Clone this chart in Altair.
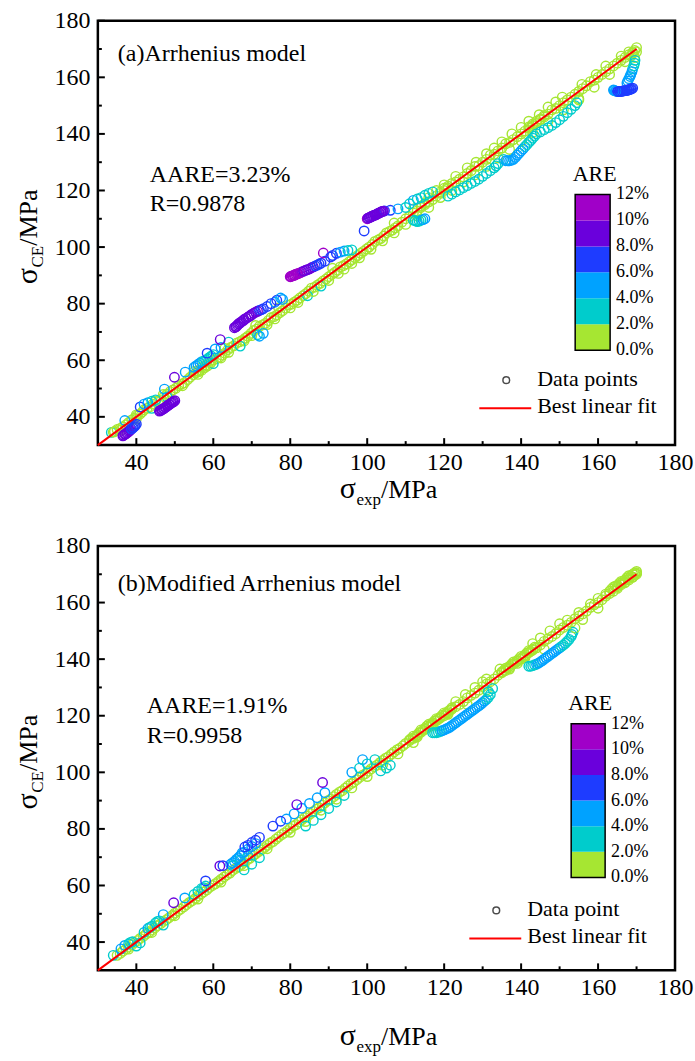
import altair as alt
import pandas as pd

FONT = "Liberation Serif"
W, H = 578, 425

TICK_MAJOR = [40, 60, 80, 100, 120, 140, 160, 180]
TICK_MINOR = [50, 70, 90, 110, 130, 150, 170]
ARE_EDGES = [0, 2, 4, 6, 8, 10, 12]
ARE_LABELS = ["0.0%", "2.0%", "4.0%", "6.0%", "8.0%", "10%", "12%"]
ARE_COLORS = ["#a6e632", "#00cccc", "#00a2ff", "#1e3cff", "#6a00dc", "#a000c8"]
FIT_X = [30, 170]
FIT_Y = [30, 170]

# ---------------- panel (a): Arrhenius model ----------------
A_BAND = [(33.5,34.5),(35,35.5),(36.5,36.5),(38,38),(39.5,39.5),(41,41),(42,42.5),(43.5,43.5),(45,45.5),
          (46.5,46),(48,48),(49.5,49.5),(51,51),(52.5,52),(54,54),(55.5,55.5),(57,56.5),(58.5,58),(60,60),
          (61.5,61),(63,62.5),(64.5,64.5),(66,66),(67.5,67),(69,68.5),(70.5,70.5),(72,72),(73.5,73),(75,75),
          (76.5,76),(78,77.5),(79.5,79.5),(81,80.5),(82.5,82),(84,83.5),(85.5,85.5),(87,86.5),(88.5,88),
          (90,89.5),(91.5,91),(93,93),(94.5,94),(96,95.5),(97.5,97),(99,98.5),(100.5,100),(102,102),
          (103.5,103),(105,105),(106.5,106),(108,107.5),(110,110),(112,112),(114,114),(116,116),(118,118),
          (120,120),(122,122.5),(124,124),(126,126),(128,128.5),(130,130),(132,132.5),(134,134),(136,136.5),
          (138,138),(140,140),(142,142.5),(144,144),(146,146),(148,148.5),(150,150),(152,152),(154,154),
          (156,156),(158,158.5),(160,160),(162,162),(164,164),(166,166),(168,168),(169.5,169.5)]
A_BAND2 = [(34.3,34.8),(35.8,35.9),(37.3,37.2),(38.8,38.9),(40.3,40.4),(41.6,41.8),(42.8,43),(44.3,44.5),
           (45.8,45.6),(47.2,47.1),(48.8,48.9),(50.3,50.1),(51.8,51.6),(53.3,53.1),(54.8,54.9),(56.3,56),
           (57.8,57.4),(59.3,59),(60.8,60.6),(62.3,61.8),(63.8,63.7),(65.3,65.1),(66.8,66.5),(68.3,67.8),
           (69.8,69.5),(71.3,71),(72.8,72.5),(74.3,74),(75.8,75.4),(77.3,76.8),(78.8,78.4),(80.3,79.8),
           (81.8,81.2),(83.3,82.8),(84.8,84.4),(86.3,85.8),(87.8,87.2),(89.3,88.7),(90.8,90.3),(92.3,91.8),
           (93.8,93.4),(95.3,94.8),(96.8,96.3),(98.3,97.8),(99.8,99.3),(101.3,100.9),(102.8,102.5),
           (104.3,103.9),(105.8,105.5),(107.3,106.8),(109,108.8),(111,110.8),(113,112.8),(115,115),
           (117,116.8),(119,119),(121,120.8),(123,123),(125,124.8),(127,127),(129,128.8),(131,131),
           (133,132.8),(135,135),(137,137),(139,139),(141,141),(143,143),(145,145.3),(147,147),(149,149),
           (151,151),(153,153),(155,155),(157,157),(159,159),(161,161),(163,163),(165,165),(167,167),(169,168.8)]
A_BELOW = [(36,35.3),(40,39.2),(44,43),(48,47),(52,51),(56,55),(60,58.8),(62,60.8),(64,62.8),(68,66.8),
           (70,68.7),(74,72.6),(76,74.6),(80,78.5),(82,80.4),(84.5,82.8),(86,84.3),(88,86.2),(90,88.2),
           (92.5,90.7),(94,92.2),(96,94.2),(98,96.2),(101,99.2),(104,102.2),(107,105),(110,108),(113,111),
           (116,114),(119,117.5),(122,120),(125,123),(128,125.5),(131,128.5),(134,131.5),(137,134.5),
           (140,137.5),(143,140.5),(147,144.5),(151,148.5),(155,152.5),(159,156.5),(163,161),(167,165.5)]
A_ABOVE = [(34,34.6),(40,40.7),(47,47.9),(55,56),(63,64.2),(71,72.3),(77,78.5),(91,92.5),(107,108.5),
           (112,113.5),(116,117.5),(120,122),(123,125),(126,128),(128.3,130),(131,133),(133,135),(135,137.2),
           (137.6,140),(140,142.3),(142,144.5),(144.7,146.8),(147,149.5),(149,151.3),(150.7,153),(155.8,157.5),
           (159.5,161),(162,164),(166,167.5),(168,169),(170,170.5),
           (142,142),(143,143.5),(144,144.5),(145,145),(146,146.5),(119,119.5),(120,120.8),(121,121.5),
           (114,114.5),(115,115.5),(168.5,167.5),(169,168.5),(169.5,167),(170,169),
           (56,56.2),(57,57.5),(58,58.3),(59,59.5)]
A_CYAN = [(37,38.7),(41,43.5),(42,44.5),(43,45),(44,45.5),(45,46),(47.3,49.8),(52.7,55.8),(55,57.5),
          (56,58.5),(57,59.5),(58,60),(59,61),(60,62),(60.5,64),(62,64.5),(64,66.4),(67,65),(71.5,69),
          (72,68.5),(73,69.5),(74,79),(76,80.5),(78,81.5),(92,97.8),(93,98.2),(94,98.6),(95,98.8),(96,99),
          (106,113),(108,113.5),(110,114),(112,116.5),(114,117.5),(116,119),(118,120),(112,109.5),(113,109),
          (114,109.5),(115,110),(121,118),(123,119.5),(125,121),(127,122.5),(129,124),(131,126),(133,128),
          (134,129.5),(135.5,131),(136,130.5),(137,130.5),(138,131),(139,132.5),(140,134),(141,135.5),
          (142,137),(143,138.5),(144,140),(146,141.5),(148,143),(150,145),(152,147.5),(154,150),(155,152),
          (169.5,165),(169,163),(168.5,161),(168,159.5),(167.5,158),
          (122,118.7),(124,120.2),(126,121.7),(128,123.2),(130,125),(132,127),(133.5,128.7),
          (145,140.7),(147,142.2),(149,144),(151,146.2),(153,148.7),(154.5,151),
          (136.5,130.5),(137.5,130.7),(138.5,131.7),(139.5,133.2),(140.5,134.7),(141.5,136.2),(142.5,137.7),
          (143.5,139.2),(169.3,164),(168.8,162),(168.3,160.3),(167.7,158.7),(169.6,166),
          (111,115.3),(113,117),(115,118.3),(117,119.5),(112.5,109.3),(113.5,109.2),(114.5,109.7),
          (55.5,58),(56.5,59),(57.5,59.7),(58.5,60.5),(59.5,61.5)]
A_OUTLIERS = [(36.5,33.3),(37,33.8),(37.5,34.2),(38,34.8),(38.5,35.4),(39,36),(39.5,36.6),(40,37.4),
              (36.7,33.5),(37.2,34),(37.7,34.5),(38.2,35.1),(38.7,35.7),(39.2,36.3),(39.7,37),
              (46,42),(46.5,42.4),(47,42.8),(47.5,43.3),(48,43.8),(48.5,44.3),(49,44.8),(49.5,45.2),(50,45.7),
              (46.2,42.2),(46.7,42.6),(47.2,43),(47.7,43.5),(48.2,44),(48.7,44.5),(49.2,45),(49.7,45.4),
              (49.9,54),(58.4,62.5),(61.8,67.3),(65.5,71.5),(66,72),(66.5,72.8),(67,73.3),(67.8,74),(68.5,74.8),
              (69.3,75.5),(70,76.2),(71,77),(72,77.6),(73,78.2),(75,80),(76.5,81.2),(77.5,82),
              (65.8,71.8),(66.3,72.4),(66.8,73),(67.3,73.6),(68,74.4),(69,75.2),(69.7,75.8),(70.5,76.6),
              (71.5,77.3),(72.5,77.9),
              (80,89.5),(80.5,89.8),(81,90),(81.5,90.4),(82,90.6),(83,91.2),(84,91.8),(85,92.3),(86,93),
              (87,93.6),(88,94.3),(89,95),(88.6,97.9),(90.5,96.5),(91,97),
              (80.2,89.6),(80.7,89.9),(81.2,90.2),(81.8,90.5),(82.5,90.9),(83.5,91.5),(84.5,92),(85.5,92.7),
              (86.5,93.3),(87.5,94),
              (100,110),(100.5,110.4),(101,110.7),(101.5,111),(102,111.3),(102.5,111.6),(103,112),(103.5,112.3),
              (104,112.6),(104.5,112.8),(100.2,110.2),(100.7,110.5),(101.2,110.9),(101.7,111.2),(102.2,111.4),
              (102.7,111.8),(103.2,112.1),(103.7,112.5),(104.2,112.7),(99.2,105.7),
              (164,155.5),(164.5,155.2),(165,155),(165.5,155),(166,155),(166.5,155.2),(167,155.3),
              (167.5,155.4),(168,155.6),(168.5,155.8),(169,156.2),(164.2,155.4),(164.7,155.1),(165.2,155),
              (165.7,155),(166.2,155.1),(166.7,155.2),(167.2,155.3),(167.7,155.5),(168.2,155.7),(168.7,156)]

# ---------------- panel (b): Modified Arrhenius model ----------------
B_BAND = [(35,35.3),(36.5,36.8),(38,38.2),(39.5,39.8),(41,41.3),(42.5,42.8),(44,44.2),(45.5,45.8),(47,47.3),
          (48.5,48.6),(50,50.2),(51.5,51.6),(53,53.2),(54.5,54.6),(56,56.3),(57.5,57.7),(59,59.3),(60.5,60.6),
          (62,62.2),(63.5,63.7),(65,65.3),(66.5,66.6),(68,68.2),(69.5,69.6),(71,71.2),(72.5,72.6),(74,74.2),
          (75.5,75.5),(77,77.2),(78.5,78.6),(80,80.2),(81.5,81.5),(83,83.2),(84.5,84.5),(86,86.2),(87.5,87.5),
          (89,89.2),(90.5,90.5),(92,92.2),(93.5,93.5),(95,95.2),(96.5,96.5),(98,98.2),(99.5,99.5),(101,101.2),
          (102.5,102.5),(104,104.2),(105.5,105.5),(107,107.2),(108.5,108.5),(110,110.2),(112,112),(114,114.2),
          (116,116),(118,118.3),(120,120),(122,122.3),(124,124),(126,126.3),(128,128),(130,130.3),(132,132),
          (134,134.3),(136,136),(138,138.3),(140,140),(142,142.3),(144,144),(146,146.3),(148,148),(150,150.3),
          (152,152),(154,154.3),(156,156),(158,158.3),(160,160),(162,162.3),(164,164),(166,166.3),(168,168),
          (169.5,169.8)]
B_BAND2 = [(35.8,36),(37.3,37.5),(38.8,39),(40.3,40.5),(41.8,42),(43.3,43.4),(44.8,45),(46.3,46.5),(47.8,47.9),
           (49.3,49.4),(50.8,51),(52.3,52.4),(53.8,54),(55.3,55.4),(56.8,57),(58.3,58.4),(59.8,60),(61.3,61.4),
           (62.8,63),(64.3,64.4),(65.8,66),(67.3,67.4),(68.8,69),(70.3,70.4),(71.8,72),(73.3,73.4),(74.8,75),
           (76.3,76.4),(77.8,78),(79.3,79.4),(80.8,81),(82.3,82.4),(83.8,84),(85.3,85.4),(86.8,87),(88.3,88.4),
           (89.8,90),(91.3,91.4),(92.8,93),(94.3,94.4),(95.8,96),(97.3,97.4),(98.8,99),(100.3,100.4),
           (101.8,102),(103.3,103.4),(104.8,105),(106.3,106.4),(107.8,108),(109.3,109.4),(111,111.2),(113,113),
           (115,115.2),(117,117),(119,119.2),(121,121),(123,123.2),(125,125),(127,127.2),(129,129),(131,131.2),
           (133,133),(135,135.2),(137,137),(139,139.2),(141,141),(143,143.2),(145,145),(147,147.2),(149,149),
           (151,151.2),(153,153),(155,155.2),(157,157),(159,159.2),(161,161),(163,163.2),(165,165),(167,167.2),
           (169,169)]
B_DENSE = [(111,111.5),(112,112.8),(113,113.2),(114,115),(115,115.5),(116,117),(117,117.5),(118,119),
           (119,119.5),(120,121),(121,121.5),(122,122.8),(113,112.5),(117,116.5),(121,120.5),
           (111.5,112),(112.5,112.5),(113.5,114),(114.5,114.8),(115.5,116.3),(116.5,116.8),(117.5,118.2),
           (118.5,118.8),(119.5,120.2),(120.5,120.8),(121.5,122),
           (135,135.5),(136,136.8),(137,137.5),(138,139),(139,139.5),(140,141),(141,141.5),(142,143),
           (143,143.5),(137,136.5),(141,140.5),(139,138.5),
           (135.5,136),(136.5,137),(137.5,138.2),(138.5,138.8),(139.5,140.2),(140.5,140.8),(141.5,142.2),
           (142.5,142.8),(143.5,144.2),
           (163,164),(164,165.5),(165,166),(166,167.5),(167,168),(168,169.5),(169,170),(170,171),(168,168.5),
           (169,169),(170,170),(167,167),(166,166.8),(165,165.5),
           (163.5,164.8),(164.5,165.8),(165.5,166.8),(166.5,167.5),(167.5,168.8),(168.5,169.3),(169.5,170.5),
           (170,170.5)]
B_ABOVE = [(123,125),(125.5,127.5),(128,130),(130,132),(131,133),(134.5,136.5),(143,145.5),(145,147.5),
           (147.5,150),(150,152.5),(152,153.8),(155,156.5),(158,159.5),(160,161.5),(162,163)]
B_BELOW = [(38,37.5),(44,43.4),(50,49.3),(56,55.2),(62,61.2),(68,67),(74,73),(80,78.8),(84,82.6),(88,86.6),
           (92,90.5),(96,94.5),(100,98.5),(104,102.5),(108,106.5),(112,110.5),(126,124),(131,129),(146,143.5),
           (156,154),(160,158)]
B_CYAN = [(34,35.3),(37,38.8),(38,39.4),(39,40.1),(40,38.6),(41,39.7),(42,43.4),(43,44.8),(44,45.6),(45,46.8),
          (46,47.5),(47,46),(47,49.7),(52.6,55.6),(55,56.8),(56,57.9),(57,59),(58,59.8),(57.5,59.2),
          (64.5,67.5),(65.5,68.5),(66.5,69.8),(67.5,71.5),(65,67),(67,69),(69,70.5),(68,65.5),(70,67.5),
          (72,69.8),(79,83.5),(81,85.3),(83,87.3),(85,89),(87,91),(89,92.8),(84,81),(86,83),(88,85),
          (90,87.2),(92,89.5),(94,91.8),(98.8,104.5),(96,100),(98,101.5),(100,103),(102,104.5),(103.5,100.5),
          (105,101.5),(106,102.5),(117,114),(118,114),(119,114.5),(120,115),(121,115.6),(122,116.5),
          (123,117.5),(124,118.5),(125,119.5),(126,120.5),(127,121.5),(128,122.5),(129,123.5),(130,124.6),
          (131,125.8),(132,127.5),(132.6,129.6),(131.5,128.5),(142,137.5),(143,137.7),(144,138.2),(145,139),
          (146,140),(147,141),(148,142),(149,143),(150,144),(151,145),(152,146.3),(153,148),(153.5,149.5),
          (154,151),
          (117.5,114),(118.5,114.2),(119.5,114.7),(120.5,115.3),(121.5,116),(122.5,117),(123.5,118),
          (124.5,119),(125.5,120),(126.5,121),(127.5,122),(128.5,123),(129.5,124),(130.5,125.2),(131.5,126.5),
          (142.5,137.5),(143.5,138),(144.5,138.6),(145.5,139.5),(146.5,140.5),(147.5,141.5),(148.5,142.5),
          (149.5,143.5),(150.5,144.5),(151.5,145.6),(152.5,147),(153.2,148.7),
          (65,68),(66,69.2),(67,70.5),(68,71.8),(69,72.8),(70,73.8),(71,74.8),(36,37.6),(38.5,39.9),(43.5,45.2),
          (45.5,47.3)]
B_OUTLIERS = [(49.7,53.9),(58,61.6),(61.7,66.9),(62.5,67),(68.2,73.6),(69,74.2),(70,75.2),(71,76),(72,77),
              (75.5,81),(77.5,82.7),(81.7,88.6),(88.4,96.4)]


def points_frame(*groups):
    rows = [p for g in groups for p in g]
    df = pd.DataFrame(rows, columns=["x", "y"])
    df["are"] = (df["y"] - df["x"]).abs() / df["x"] * 100.0
    return df


def txt(s, x, y, size=24, align="left", angle=0, baseline="alphabetic"):
    return alt.Chart(pd.DataFrame({"t": [s]})).mark_text(
        font=FONT, fontSize=size, align=align, baseline=baseline, angle=angle, color="black"
    ).encode(text="t:N", x=alt.value(x), y=alt.value(y))


SIG, BIG, SMALL = 30, 26, 17


def ytitle(sub, cx_base, cy):
    w_sig, w_sub, w_rest = 0.56 * SIG, 1.28 * SMALL, 2.167 * BIG
    start = cy + (w_sig + w_sub + w_rest) / 2
    return [
        txt("σ", cx_base, start, SIG, angle=270),
        txt(sub, cx_base + 6, start - w_sig, SMALL, angle=270),
        txt("/MPa", cx_base, start - w_sig - w_sub, BIG, angle=270),
    ]


def xtitle(sub, cx, base):
    w_sig, w_sub, w_rest = 0.56 * SIG, 1.444 * SMALL, 2.167 * BIG
    start = cx - (w_sig + w_sub + w_rest) / 2
    return [
        txt("σ", start, base, SIG),
        txt(sub, start + w_sig, base + 7, SMALL),
        txt("/MPa", start + w_sig + w_sub, base, BIG),
    ]


def panel(df, label, aare, rval, legend_name, lay):
    xs = alt.Scale(domain=[30, 180], nice=False, zero=False)
    ys = alt.Scale(domain=[30, 180], nice=False, zero=False)
    are_scale = alt.Scale(type="threshold", domain=ARE_EDGES[1:-1], range=ARE_COLORS)
    ax_common = dict(values=TICK_MAJOR, title=None, ticks=False, tickSize=0, domain=False, grid=False,
                     labelFont=FONT, labelFontSize=24, labelColor="black", format="d")

    pts = alt.Chart(df).mark_point(shape="circle", filled=False, size=90, strokeWidth=1.4, opacity=1).encode(
        x=alt.X("x:Q", scale=xs, axis=alt.Axis(labelPadding=5, labelFlush=False, **ax_common)),
        y=alt.Y("y:Q", scale=ys, axis=alt.Axis(labelPadding=8, **ax_common)),
        color=alt.Color("are:Q", scale=are_scale, legend=None),
    )
    fit = alt.Chart(pd.DataFrame({"x": FIT_X, "y": FIT_Y})).mark_line(color="#ff0000", strokeWidth=2).encode(
        x=alt.X("x:Q", scale=xs), y=alt.Y("y:Q", scale=ys))

    def xt(vals, ln):
        return alt.Chart(pd.DataFrame({"v": vals})).mark_rule(color="black", strokeWidth=2).encode(
            x=alt.X("v:Q", scale=xs), y=alt.value(H), y2=alt.value(H - ln))

    def yt(vals, ln):
        return alt.Chart(pd.DataFrame({"v": vals})).mark_rule(color="black", strokeWidth=2).encode(
            y=alt.Y("v:Q", scale=ys), x=alt.value(0), x2=alt.value(ln))

    lx0, lx1, ly0, ly1 = lay["cb"]
    leg = lay["leg"]
    extras = [
        txt(label, 20, lay["label_y"], 24),
        txt(aare, lay["aare_x"], lay["aare_y"], 24),
        txt(rval, lay["aare_x"], lay["aare_y"] + 30, 24),
        txt("ARE", (lx0 + lx1) / 2 + 2, ly0 - 14, 22, align="center"),
        alt.Chart(pd.DataFrame({"s": [0]})).mark_point(shape="circle", filled=False, size=45, color="black",
                                                      strokeWidth=1.5).encode(
            x=alt.value(leg[0] - 31), y=alt.value(leg[1] - 6)),
        alt.Chart(pd.DataFrame({"s": [0]})).mark_rule(color="#ff0000", strokeWidth=2).encode(
            x=alt.value(leg[0] - 58), x2=alt.value(leg[0] - 6), y=alt.value(leg[1] + 22)),
        txt(legend_name, leg[0], leg[1], 22),
        txt("Best linear fit", leg[0], leg[1] + 27, 22),
    ] + ytitle("CE", -61, H / 2 + 4) + xtitle("exp", W / 2 + 2, lay["xt_base"])

    main = alt.layer(pts, fit, xt(TICK_MAJOR, 7), xt(TICK_MINOR, 4), yt(TICK_MAJOR, 7), yt(TICK_MINOR, 4),
                     *extras)

    # colour bar drawn on its own vertical scale
    per = (ly1 - ly0) / 12.0
    d0 = -(H - ly1) / per
    d1 = 12 + ly0 / per
    cbs = alt.Scale(domain=[d0, d1], nice=False, zero=False)
    cb_df = pd.DataFrame({"lo": ARE_EDGES[:-1], "hi": ARE_EDGES[1:]})
    cb_df["mid"] = (cb_df["lo"] + cb_df["hi"]) / 2
    bar = alt.Chart(cb_df).mark_rect().encode(
        x=alt.value(lx0), x2=alt.value(lx1),
        y=alt.Y("lo:Q", scale=cbs, axis=None), y2="hi:Q",
        color=alt.Color("mid:Q", scale=are_scale, legend=None),
    )
    outline = alt.Chart(pd.DataFrame({"lo": [0], "hi": [12]})).mark_rect(
        fillOpacity=0, stroke="black", strokeWidth=1.5).encode(
        x=alt.value(lx0), x2=alt.value(lx1), y=alt.Y("lo:Q", scale=cbs, axis=None), y2="hi:Q")
    labels = alt.Chart(pd.DataFrame({"v": ARE_EDGES, "t": ARE_LABELS})).mark_text(
        font=FONT, fontSize=18, align="left", baseline="middle", color="black").encode(
        x=alt.value(lx1 + 6), y=alt.Y("v:Q", scale=cbs, axis=None), text="t:N")
    cb = alt.layer(bar, outline, labels)
    return alt.layer(main, cb).resolve_scale(y="independent").properties(width=W, height=H)


lay_a = dict(label_y=40, aare_x=52, aare_y=161, cb=(478, 513, 174, 330), leg=(440, 366), xt_base=H + 53)
lay_b = dict(label_y=45, aare_x=49, aare_y=167, cb=(474, 508, 178, 332), leg=(430, 371), xt_base=H + 75)

pa = panel(points_frame(A_BAND, A_BAND2, A_BELOW, A_ABOVE, A_CYAN, A_OUTLIERS),
           "(a)Arrhenius model", "AARE=3.23%", "R=0.9878", "Data points", lay_a)
pb = panel(points_frame(B_BAND, B_BAND2, B_DENSE, B_ABOVE, B_BELOW, B_CYAN, B_OUTLIERS),
           "(b)Modified Arrhenius model", "AARE=1.91%", "R=0.9958", "Data point", lay_b)

chart = alt.vconcat(pa, pb, spacing=101, bounds="flush").properties(
    padding={"left": 11, "top": 6, "right": 0, "bottom": 0},
    background="white",
).configure_view(stroke="black", strokeWidth=2.5)

chart.save("out.html", embed_options={"renderer": "svg", "actions": False})
